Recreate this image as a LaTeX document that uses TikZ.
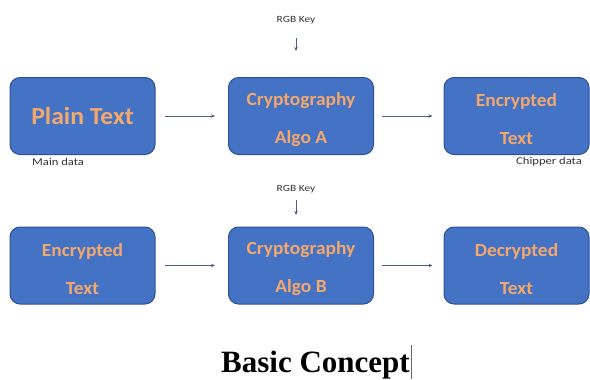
\documentclass[tikz,border=0pt]{standalone}
\usepackage{fontspec}
\setmainfont{Liberation Serif}
\newfontfamily\boxfont[FakeStretch=1.05]{Carlito}
\newfontfamily\labelfont[FakeStretch=1.2]{Carlito}
\usetikzlibrary{arrows.meta}
\definecolor{boxblue}{RGB}{68,114,196}
\definecolor{boxedge}{RGB}{47,82,143}
\definecolor{txtorange}{RGB}{244,168,108}
\definecolor{arrowgray}{RGB}{80,95,125}
\tikzset{
  stepbox/.style={draw=boxedge, line width=1pt, fill=boxblue, rounded corners=10pt,
    minimum width=145pt, minimum height=77pt, align=center, inner sep=2pt,
    font=\boxfont\bfseries\fontsize{18.5}{38}\selectfont, text=txtorange},
  flow/.style={draw=arrowgray, line width=0.6pt, -{Stealth[length=4pt,width=3.5pt]}},
  smalllabel/.style={font=\labelfont\fontsize{10.5}{12}\selectfont, text=black!80, inner sep=1pt},
  keylabel/.style={font=\labelfont\fontsize{9.5}{11}\selectfont, text=black!80, inner sep=1pt},
}
\begin{document}
\begin{tikzpicture}[x=1pt,y=-1pt]
\useasboundingbox (0,0) rectangle (590,380);
% row 1
\node[stepbox, font=\boxfont\bfseries\fontsize{24.5}{28}\selectfont] (pt) at (82.5,116) {\raisebox{-2pt}{Plain Text}};
\node[stepbox] (ca) at (301,116) {\rule{0pt}{20pt}Cryptography\\Algo A};
\node[stepbox] (et1) at (516.5,116) {\rule{0pt}{20pt}Encrypted\\Text};
\node[keylabel] (k1) at (296,20) {RGB Key};
\coordinate (k1s) at (296,38);
\coordinate (k1e) at (296,51);
\draw[flow] (k1s) -- (k1e);
\draw[flow] ([xshift=9pt]pt.east) -- ([xshift=-13pt]ca.west);
\draw[flow] ([xshift=8pt]ca.east) -- ([xshift=-11pt]et1.west);
\node[smalllabel, anchor=west] (md) at (31,161.5) {Main data};
\node[smalllabel, anchor=east] (cd) at (583,161.5) {Chipper data};
% row 2
\node[stepbox] (et2) at (82.5,265.5) {\rule{0pt}{20pt}Encrypted\\Text};
\node[stepbox] (cb) at (301,265.5) {\rule{0pt}{20pt}Cryptography\\Algo B};
\node[stepbox] (dt) at (516.5,265.5) {\rule{0pt}{20pt}Decrypted\\Text};
\node[keylabel] (k2) at (296,189) {RGB Key};
\coordinate (k2s) at (296,200);
\coordinate (k2e) at (296,215);
\draw[flow] (k2s) -- (k2e);
\draw[flow] ([xshift=9pt]et2.east) -- ([xshift=-13pt]cb.west);
\draw[flow] ([xshift=8pt]cb.east) -- ([xshift=-11pt]dt.west);
% title
\node[font=\bfseries\fontsize{31}{35}\selectfont, anchor=base, inner sep=0pt] (title) at (315.5,372) {Basic Concept};
\coordinate (cur1) at ([xshift=1.5pt]title.east |- 0,345);
\coordinate (cur2) at ([xshift=1.5pt]title.east |- 0,379);
\draw[black!60, line width=0.6pt] (cur1) -- (cur2);
\end{tikzpicture}
\end{document}
